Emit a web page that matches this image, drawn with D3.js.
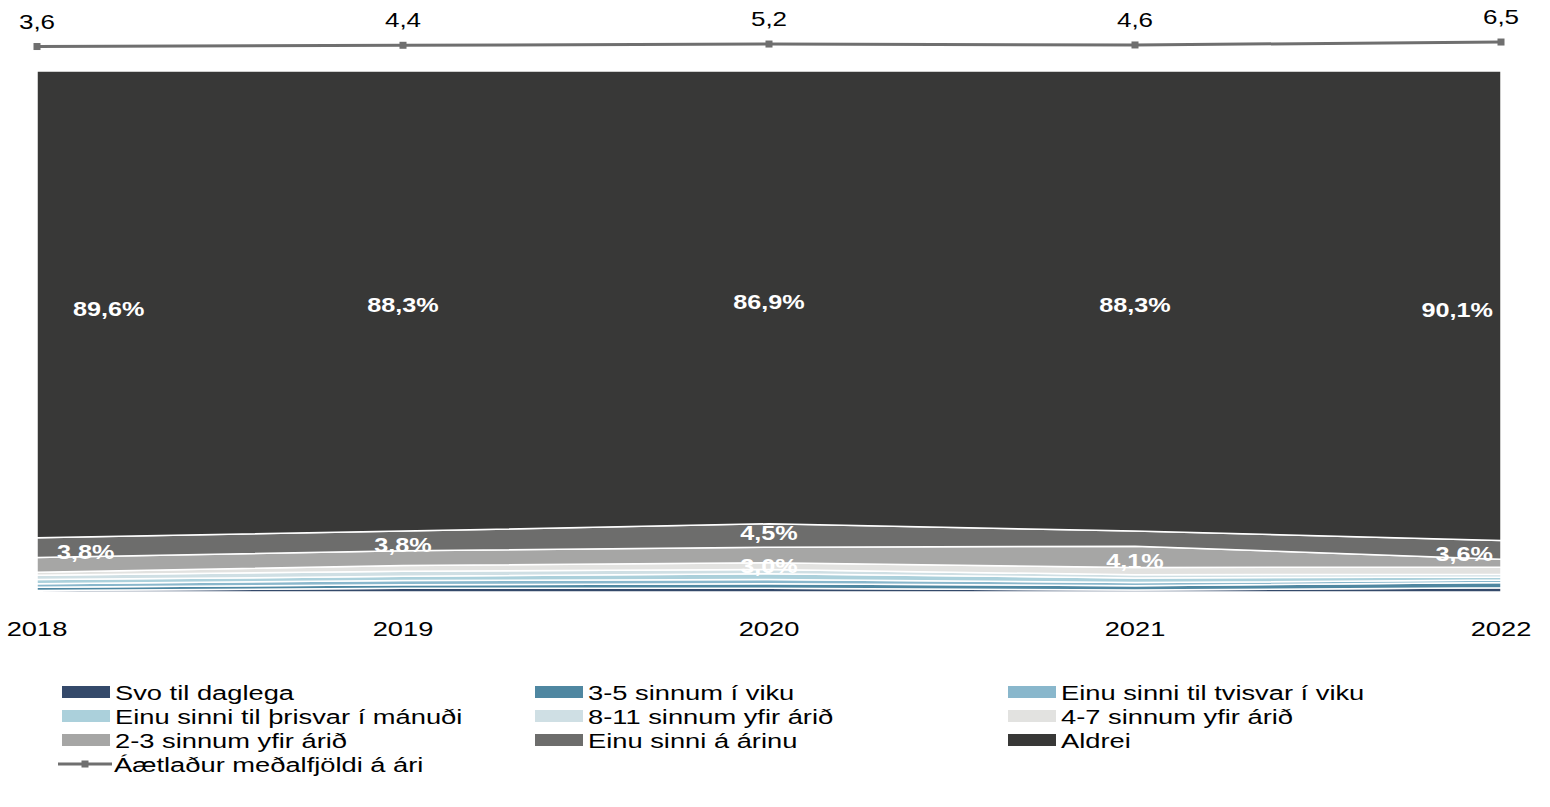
<!DOCTYPE html>
<html><head><meta charset="utf-8">
<script src="https://cdn.jsdelivr.net/npm/d3@7"></script>
<style>
html,body{margin:0;padding:0;background:#fff;}
svg{display:block;font-family:"Liberation Sans",Arial,sans-serif;}
</style></head><body>
<svg id="c" width="1550" height="807"></svg>
<script>
const years = ["2018","2019","2020","2021","2022"];
const seriesNames = ["Svo til daglega","3-5 sinnum í viku","Einu sinni til tvisvar í viku","Einu sinni til þrisvar í mánuði","8-11 sinnum yfir árið","4-7 sinnum yfir árið","2-3 sinnum yfir árið","Einu sinni á árinu","Aldrei"];
const seriesColors = ["#34496a","#4f87a1","#89b7cc","#abd0db","#cfdfe4","#e2e2e0","#a6a6a5","#6d6d6c","#383837"];
const svoTilDaglega   = [0.3,0.7,0.7,0.4,0.8];
const threeToFiveWeek = [0.6,0.7,0.9,0.8,1.0];
const onceTwiceWeek   = [0.7,0.8,0.8,0.6,0.5];
const onceThriceMonth = [0.8,0.8,1.1,0.9,0.6];
const eightElevenYear = [0.8,1.0,0.8,0.6,0.5];
const fourSevenYear   = [0.6,1.1,1.3,1.4,1.4];
const twoThreeYear    = [2.8,2.8,3.0,4.1,1.5];
const oncePerYear     = [3.8,3.8,4.5,2.9,3.6];
const aldrei          = [89.6,88.3,86.9,88.3,90.1];
const avgPerYear      = [3.6,4.4,5.2,4.6,6.5];
const lineName = "Áætlaður meðalfjöldi á ári";
const labelThreshold = 3.0;

const seriesValues = [svoTilDaglega,threeToFiveWeek,onceTwiceWeek,onceThriceMonth,eightElevenYear,fourSevenYear,twoThreeYear,oncePerYear,aldrei];
const rows = years.map((y,i)=>{const r={year:y}; seriesNames.forEach((n,k)=>r[n]=seriesValues[k][i]); return r;});

const svg = d3.select("#c");
const L=37,R=1501,T=71,B=592;
const x = d3.scalePoint().domain(years).range([L,R]);
const y = d3.scaleLinear().domain([0,100]).range([B,T]);
const yLine = d3.scaleLinear().domain([0,10]).range([52.1,36.6]);
const SX = 1.3; // horizontal stretch of the reference text

function stext(g, xp, yp, txt, opts={}){
  const t = g.append("text")
    .attr("transform",`translate(${xp},${yp}) scale(${opts.sx||SX},1)`)
    .attr("text-anchor",opts.anchor||"start")
    .text(txt);
  if (opts.dy) t.attr("dy",opts.dy);
  return t;
}

const stack = d3.stack().keys(seriesNames);
const stacked = stack(rows);
const area = d3.area().x(d=>x(d.data.year)).y0(d=>y(d[0])).y1(d=>y(d[1]));

svg.append("g").selectAll("path").data(stacked).join("path")
  .attr("d",area).attr("fill",(d,i)=>seriesColors[i])
  .attr("stroke","#fff").attr("stroke-width",1.5).attr("stroke-linejoin","round");

// data labels (with simple vertical collision avoidance per year)
const lab = svg.append("g").attr("font-weight","bold").attr("fill","#fff").attr("font-size",21);
const minGap = 33;
years.forEach((yr,i)=>{
  const items = [];
  stacked.forEach((s,k)=>{
    const d = s[i], v = seriesValues[k][i];
    if (v < labelThreshold) return;
    items.push({k, v, yc:(y(d[0])+y(d[1]))/2 + 4});
  });
  items.sort((a,b)=>b.yc-a.yc); // bottom first
  for (let j=1;j<items.length;j++){
    const lo = items[j-1], hi = items[j];
    const gap = lo.yc - hi.yc;
    if (gap < minGap){ const p=(minGap-gap)/2; lo.yc += p; hi.yc -= p; }
  }
  items.forEach(it=>{
    const big = seriesNames[it.k]==="Aldrei";
    let xp = x(yr), anchor="middle";
    if (i===0){anchor="start"; xp += big?36:20;}
    if (i===years.length-1){anchor="end"; xp -= 8;}
    stext(lab, xp, it.yc, d3.format(".1f")(it.v).replace(".",",")+"%", {anchor, dy:"0.35em", sx:1.2});
  });
});

// x axis labels
const ax = svg.append("g").attr("font-size",21).attr("fill","#000");
years.forEach(yr=>{ stext(ax, x(yr), 636, yr, {anchor:"middle"}); });

// line series
const line = d3.line().x((d,i)=>x(years[i])).y(d=>yLine(d));
svg.append("path").datum(avgPerYear).attr("d",line).attr("fill","none")
  .attr("stroke","#6f6f6f").attr("stroke-width",3);
svg.append("g").selectAll("rect").data(avgPerYear).join("rect")
  .attr("x",(d,i)=>x(years[i])-3.5).attr("y",d=>yLine(d)-3.5).attr("width",7).attr("height",7).attr("fill","#6f6f6f");
const tl = svg.append("g").attr("font-size",20);
avgPerYear.forEach((d,i)=>{ stext(tl, x(years[i]), yLine(d)-18, d3.format(".1f")(d).replace(".",","), {anchor:"middle"}); });

// legend
const legCols=[62,535,1008], legRows=[692,716,740];
const leg = svg.append("g").attr("font-size",21);
seriesNames.forEach((n,k)=>{
  const cx = legCols[k%3], cy = legRows[Math.floor(k/3)];
  leg.append("rect").attr("x",cx).attr("y",cy-6).attr("width",48).attr("height",12).attr("fill",seriesColors[k]);
  stext(leg, cx+53, cy, n, {dy:"0.36em", sx:1.3});
});
const ly=764;
leg.append("line").attr("x1",58).attr("x2",112).attr("y1",ly).attr("y2",ly).attr("stroke","#6f6f6f").attr("stroke-width",3);
leg.append("rect").attr("x",81.5).attr("y",ly-3.5).attr("width",7).attr("height",7).attr("fill","#6f6f6f");
stext(leg, 114, ly, lineName, {dy:"0.36em", sx:1.3});
</script></body></html>
